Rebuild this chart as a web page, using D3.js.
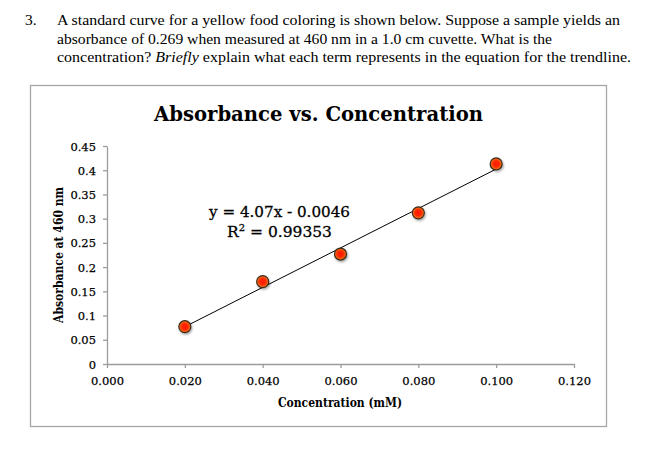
<!DOCTYPE html>
<html><head><meta charset="utf-8">
<script src="https://cdn.jsdelivr.net/npm/d3@7"></script>
<style>
html,body{margin:0;padding:0;background:#fff;}
svg{display:block;}
</style></head>
<body>
<script>
const concentrations = [0.02, 0.04, 0.06, 0.08, 0.10];
const absorbances = [0.077, 0.170, 0.227, 0.312, 0.413];
const xTicks = [0, 0.02, 0.04, 0.06, 0.08, 0.10, 0.12];
const yTicks = [0, 0.05, 0.1, 0.15, 0.2, 0.25, 0.3, 0.35, 0.4, 0.45];
const slope = 4.07, intercept = -0.0046;
const questionLines = [
  "A standard curve for a yellow food coloring is shown below. Suppose a sample yields an",
  "absorbance of 0.269 when measured at 460 nm in a 1.0 cm cuvette. What is the",
  "concentration? |Briefly| explain what each term represents in the equation for the trendline."
];

const W = 646, H = 457;
const svg = d3.select("body").append("svg").attr("width", W).attr("height", H);
const defs = svg.append("defs");
const grad = defs.append("radialGradient").attr("id","mk").attr("cx","50%").attr("cy","50%").attr("r","50%");
grad.append("stop").attr("offset","0%").attr("stop-color","#ff1a00");
grad.append("stop").attr("offset","50%").attr("stop-color","#ff2800");
grad.append("stop").attr("offset","100%").attr("stop-color","#f0801e");
const sh = defs.append("filter").attr("id","sh").attr("x","-50%").attr("y","-50%").attr("width","200%").attr("height","200%");
sh.append("feDropShadow").attr("dx",1).attr("dy",1.5).attr("stdDeviation",1.2).attr("flood-color","#000").attr("flood-opacity",0.35);

// Question text
const serif = "'Liberation Serif','Times New Roman',serif";
svg.append("text").attr("x",25).attr("y",25).attr("font-family",serif).attr("font-size",15.5).text("3.");
const qy = [25, 44, 62];
const qlen = [563, 495, 574];
questionLines.forEach((ln,i)=>{
  const t = svg.append("text").attr("x",57).attr("y",qy[i]).attr("font-family",serif).attr("font-size",15.5)
    .attr("textLength",qlen[i]).attr("lengthAdjust","spacingAndGlyphs");
  ln.split("|").forEach((part,j)=>{
    t.append("tspan").attr("font-style", j%2===1 ? "italic":"normal").text(part);
  });
});

// Chart frame
svg.append("rect").attr("x",30.5).attr("y",85.5).attr("width",576).attr("height",341)
  .attr("fill","#fff").attr("stroke","#a6a6a6").attr("stroke-width",1.3);

const cfont = "'DejaVu Serif','Liberation Serif',serif";
svg.append("text").attr("x",318.5).attr("y",121).attr("text-anchor","middle")
  .attr("font-family",cfont).attr("font-weight","bold").attr("font-size",21)
  .attr("textLength",329).attr("lengthAdjust","spacingAndGlyphs")
  .text("Absorbance vs. Concentration");

const x = d3.scaleLinear().domain([0,0.12]).range([107,574]);
const y = d3.scaleLinear().domain([0,0.45]).range([364,146]);

const xAxis = svg.append("g").attr("transform",`translate(0,${y(0)})`)
  .call(d3.axisBottom(x).tickValues(xTicks).tickFormat(d3.format(".3f")).tickSizeInner(4).tickSizeOuter(0).tickPadding(6));
const yAxis = svg.append("g").attr("transform",`translate(${x(0)},0)`)
  .call(d3.axisLeft(y).tickValues(yTicks).tickFormat(d=>d3.format("")(+d.toFixed(2))).tickSizeInner(4).tickSizeOuter(0).tickPadding(7));
[xAxis,yAxis].forEach(a=>{
  a.select(".domain").attr("stroke","#9c9c9c").attr("stroke-width",1.3);
  a.selectAll(".tick line").attr("stroke","#9c9c9c").attr("stroke-width",1.3);
  a.selectAll(".tick text").attr("font-family",cfont).attr("font-size",11.5).attr("fill","#000")
    .attr("stroke","#000").attr("stroke-width",0.25);
});
xAxis.selectAll(".tick text").attr("dy","0.95em");
yAxis.selectAll(".tick text").attr("dy","0.35em");

svg.append("text").attr("x",340).attr("y",407).attr("text-anchor","middle")
  .attr("font-family",cfont).attr("font-weight","bold").attr("font-size",12)
  .attr("textLength",124).attr("lengthAdjust","spacingAndGlyphs")
  .text("Concentration (mM)");
svg.append("text").attr("transform","translate(63,255) rotate(-90)").attr("text-anchor","middle")
  .attr("font-family",cfont).attr("font-weight","bold").attr("font-size",12)
  .attr("textLength",136).attr("lengthAdjust","spacingAndGlyphs")
  .text("Absorbance at 460 nm");

// trendline
const x0 = d3.min(concentrations), x1 = d3.max(concentrations);
svg.append("line").attr("x1",x(x0)).attr("y1",y(slope*x0+intercept)).attr("x2",x(x1)).attr("y2",y(slope*x1+intercept))
  .attr("stroke","#000").attr("stroke-width",1);

// equation
svg.append("text").attr("x",279.5).attr("y",217).attr("text-anchor","middle")
  .attr("font-family",cfont).attr("font-size",15.5).attr("textLength",141).attr("lengthAdjust","spacingAndGlyphs")
  .attr("stroke","#000").attr("stroke-width",0.3)
  .text("y = 4.07x - 0.0046");
const r2 = svg.append("text").attr("x",279.5).attr("y",237).attr("text-anchor","middle")
  .attr("font-family",cfont).attr("font-size",15.5).attr("stroke","#000").attr("stroke-width",0.3);
r2.append("tspan").text("R");
r2.append("tspan").attr("dy",-6).attr("font-size",10).text("2");
r2.append("tspan").attr("dy",6).text(" = 0.99353");

// markers
svg.append("g").selectAll("circle").data(concentrations.map((c,i)=>[c,absorbances[i]])).join("circle")
  .attr("cx",d=>x(d[0])).attr("cy",d=>y(d[1])).attr("r",6)
  .attr("fill","url(#mk)").attr("stroke","#3a2a1a").attr("stroke-width",1.2).attr("filter","url(#sh)");
</script>
</body></html>
